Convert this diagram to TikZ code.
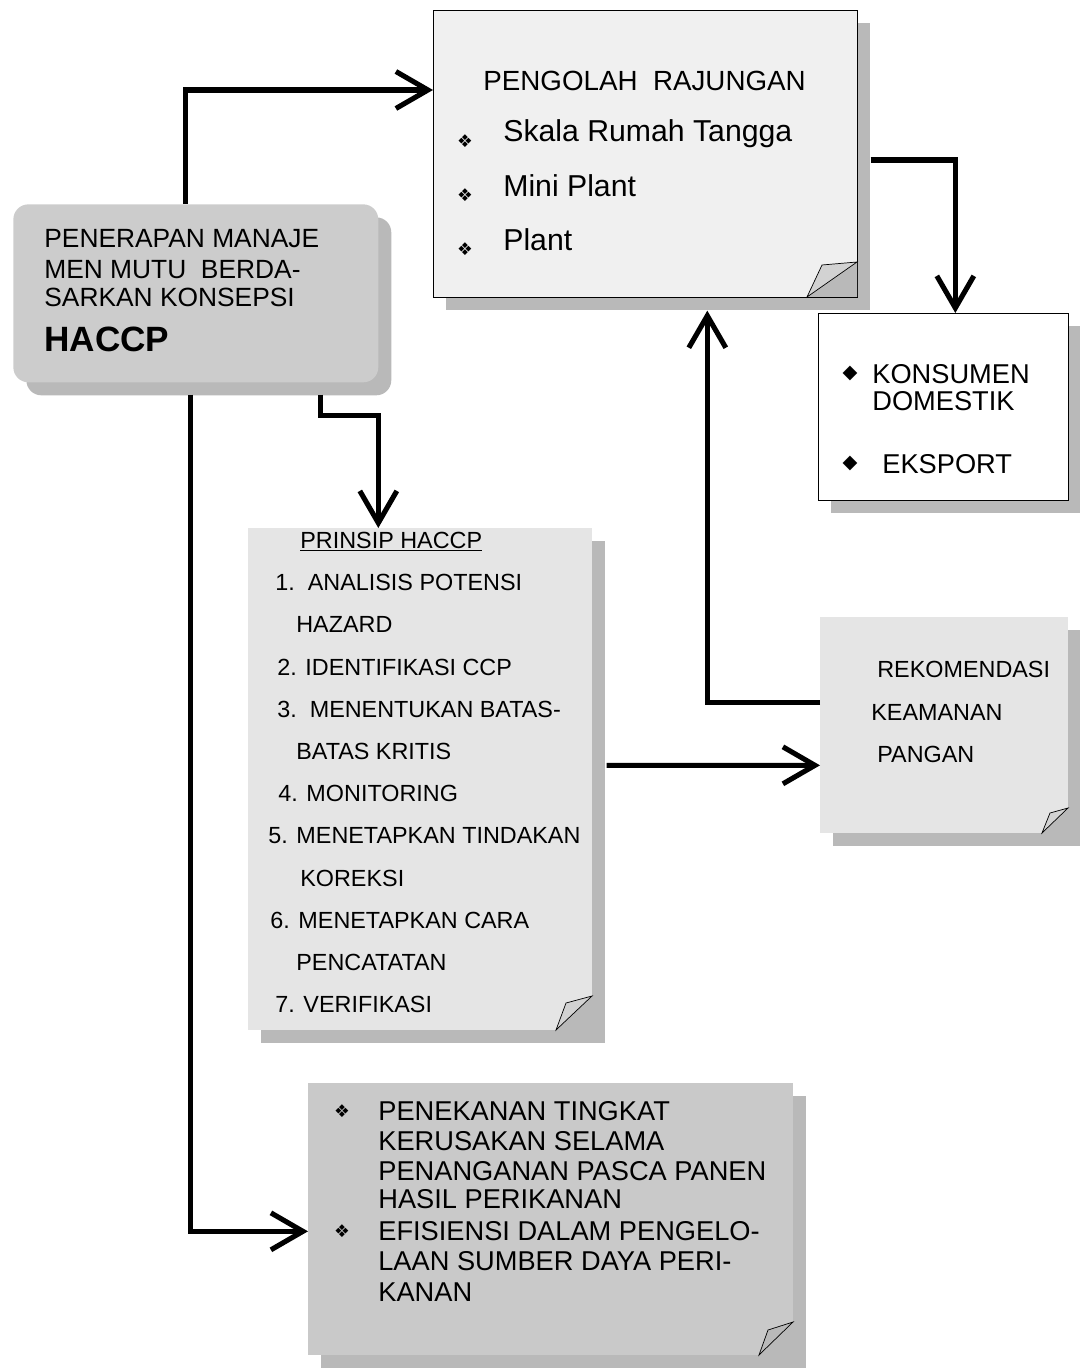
\documentclass[tikz,border=0pt]{standalone}
\usepackage{fontspec}
\setmainfont{Liberation Sans}
\newfontfamily\symfont{DejaVu Sans}
\usetikzlibrary{arrows.meta,calc,shadows}

\tikzset{
  box/.style={anchor=north west, inner sep=0pt, fill=gray!20,
    drop shadow={shadow xshift=0.26cm, shadow yshift=-0.26cm, fill=gray!55, opacity=1}},
  flow/.style={line width=2.9pt, -{Straight Barb[length=0.64cm, width=0.74cm]}},
  txt/.style={anchor=base west, inner sep=0pt},
  bul/.style={inner sep=0pt, font=\symfont\fontsize{10}{10}\selectfont},
  fold/.style={fill=gray!55}
}

\begin{document}
\begin{tikzpicture}[x=0.02cm, y=-0.02cm]
  \useasboundingbox (0,0) rectangle (1079,1368);

  % boxes
  \node[box, fill=gray!40, rounded corners=0.3cm, minimum width=7.3cm, minimum height=3.56cm] (haccp) at (13,204) {};
  \node[box, fill=gray!12, draw=black, thin, minimum width=8.48cm, minimum height=5.74cm] (pengolah) at (433,10) {};
  \node[box, fill=white, draw=black, thin, minimum width=5cm, minimum height=3.74cm] (konsumen) at (818,313) {};
  \node[box, minimum width=4.96cm, minimum height=4.32cm] (rekom) at (820,617) {};
  \node[box, minimum width=6.88cm, minimum height=10.04cm] (prinsip) at (248,528) {};
  \node[box, fill=gray!42, minimum width=9.7cm, minimum height=5.44cm] (hasil) at (308,1083) {};

  \fill[fold] (807,297) -- (857,262) -- (857,297) -- cycle;
  \draw[thin, fill=gray!35] (807,297) -- (822,265) -- (857,262) -- cycle;
  \fill[fold] (556,1030) -- (592,996) -- (592,1030) -- cycle;
  \draw[thin, fill=gray!35] (556,1030) -- (566,1003) -- (592,996) -- cycle;
  \fill[fold] (1042,833) -- (1068,808) -- (1068,833) -- cycle;
  \draw[thin, fill=gray!35] (1042,833) -- (1050,813) -- (1068,808) -- cycle;
  \fill[fold] (759,1355) -- (793,1322) -- (793,1355) -- cycle;
  \draw[thin, fill=gray!55] (759,1355) -- (768,1330) -- (793,1322) -- cycle;

  % texts
  \node[txt, font=\fontsize{15}{18}\selectfont] (haccpa) at (44,248) {PENERAPAN MANAJE};
  \node[txt, font=\fontsize{15}{18}\selectfont] (haccpb) at (44,278) {MEN MUTU\ \ BERDA-};
  \node[txt, font=\fontsize{15}{18}\selectfont] (haccpc) at (44,307) {SARKAN KONSEPSI};
  \node[txt, font=\bfseries\fontsize{20}{24}\selectfont] (haccpd) at (44,351) {HACCP};

  \node[txt, font=\fontsize{15.8}{18}\selectfont] (judul) at (483,91) {PENGOLAH\ \ RAJUNGAN};
  \node[bul] (bskala) at (465,141) {❖};
  \node[txt, font=\fontsize{17.2}{20}\selectfont] (skala) at (503,142) {Skala Rumah Tangga};
  \node[bul] (bmini) at (465,195) {❖};
  \node[txt, font=\fontsize{17.2}{20}\selectfont] (mini) at (503,197) {Mini Plant};
  \node[bul] (bplant) at (465,249) {❖};
  \node[txt, font=\fontsize{17.2}{20}\selectfont] (plant) at (503,251) {Plant};

  \node[bul, font=\symfont\fontsize{11}{11}\selectfont] (bkons) at (850,373) {◆};
  \node[txt, font=\fontsize{15.5}{18}\selectfont] (kons) at (872,383) {KONSUMEN};
  \node[txt, font=\fontsize{15.5}{18}\selectfont] (domestik) at (872,410) {DOMESTIK};
  \node[bul, font=\symfont\fontsize{11}{11}\selectfont] (bekspor) at (850,463) {◆};
  \node[txt, font=\fontsize{15.5}{18}\selectfont] (ekspor) at (882,473) {EKSPORT};

  \node[txt, font=\fontsize{13.3}{16}\selectfont] (rekoma) at (877,677) {REKOMENDASI};
  \node[txt, font=\fontsize{13.3}{16}\selectfont] (rekomb) at (871,720) {KEAMANAN};
  \node[txt, font=\fontsize{13.3}{16}\selectfont] (rekomc) at (877,762) {PANGAN};

  \node[txt, font=\fontsize{13.3}{16}\selectfont] (prinsip0) at (300,548) {\underline{PRINSIP HACCP}};
  \node[txt, font=\fontsize{13.3}{16}\selectfont] (prinsip1) at (275,590) {1.\ \ ANALISIS POTENSI};
  \node[txt, font=\fontsize{13.3}{16}\selectfont] (prinsip2) at (296,632) {HAZARD};
  \node[txt, font=\fontsize{13.3}{16}\selectfont] (prinsip3) at (277,675) {2. IDENTIFIKASI CCP};
  \node[txt, font=\fontsize{13.3}{16}\selectfont] (prinsip4) at (277,717) {3.\ \ MENENTUKAN BATAS-};
  \node[txt, font=\fontsize{13.3}{16}\selectfont] (prinsip5) at (296,759) {BATAS KRITIS};
  \node[txt, font=\fontsize{13.3}{16}\selectfont] (prinsip6) at (278,801) {4. MONITORING};
  \node[txt, font=\fontsize{13.3}{16}\selectfont] (prinsip7) at (268,843) {5. MENETAPKAN TINDAKAN};
  \node[txt, font=\fontsize{13.3}{16}\selectfont] (prinsip8) at (300,886) {KOREKSI};
  \node[txt, font=\fontsize{13.3}{16}\selectfont] (prinsip9) at (270,928) {6. MENETAPKAN CARA};
  \node[txt, font=\fontsize{13.3}{16}\selectfont] (prinsip10) at (296,970) {PENCATATAN};
  \node[txt, font=\fontsize{13.3}{16}\selectfont] (prinsip11) at (275,1012) {7. VERIFIKASI};

  \node[bul] (btingkat) at (342,1111) {❖};
  \node[txt, font=\fontsize{15.5}{18}\selectfont] (hasila) at (378,1120) {PENEKANAN TINGKAT};
  \node[txt, font=\fontsize{15.5}{18}\selectfont] (hasilb) at (378,1150) {KERUSAKAN SELAMA};
  \node[txt, font=\fontsize{15.5}{18}\selectfont] (hasilc) at (378,1180) {PENANGANAN PASCA PANEN};
  \node[txt, font=\fontsize{15.5}{18}\selectfont] (hasild) at (378,1208) {HASIL PERIKANAN};
  \node[bul] (befisien) at (342,1231) {❖};
  \node[txt, font=\fontsize{15.5}{18}\selectfont] (hasile) at (378,1240) {EFISIENSI DALAM PENGELO-};
  \node[txt, font=\fontsize{15.5}{18}\selectfont] (hasilf) at (378,1270) {LAAN SUMBER DAYA PERI-};
  \node[txt, font=\fontsize{15.5}{18}\selectfont] (hasilg) at (378,1301) {KANAN};

  % arrows
  \draw[flow] ($(haccp.north)+(-10,0)$) |- ($(pengolah.north west)+(0,80)$);
  \draw[flow] ($(pengolah.north east)+(13,150)$) -| ($(konsumen.north)+(12,0)$);
  \draw[flow] ($(haccp.south)+(125,12)$) -- ++(0,21) -| ($(prinsip.north)+(-42,0)$);
  \draw[flow] ($(haccp.south)+(-5,12)$) |- ($(hasil.west)+(0,12)$);
  \draw[flow] ($(prinsip.east)+(14,-14)$) -- ($(rekom.west)+(0,40)$);
  \draw[flow] ($(rekom.west)+(0,-23)$) -| ($(pengolah.south)+(62,13)$);
\end{tikzpicture}
\end{document}
